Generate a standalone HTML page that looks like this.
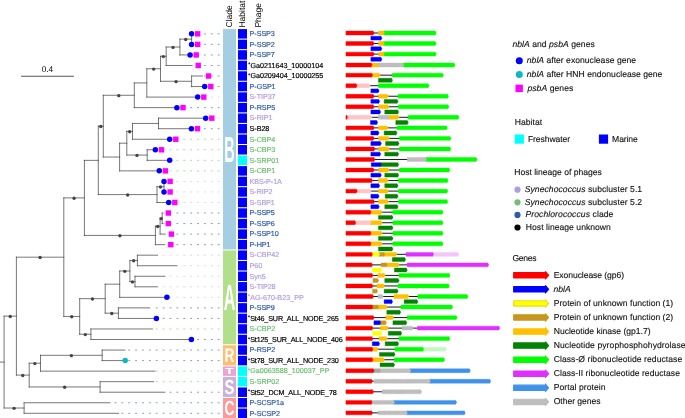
<!DOCTYPE html>
<html><head><meta charset="utf-8"><title>Phylogeny and gene organisation</title>
<style>html,body{margin:0;padding:0;background:#fff}svg{display:block;font-family:"Liberation Sans",sans-serif;text-rendering:geometricPrecision}</style>
</head><body>
<svg width="685" height="418" viewBox="0 0 685 418">
<rect width="685" height="418" fill="#fff"/>
<g stroke="#383838" stroke-width="0.68" fill="none" stroke-linecap="square">
<line x1="191.60" y1="33.85" x2="191.60" y2="33.85"/>
<line x1="191.60" y1="44.39" x2="191.60" y2="44.39"/>
<line x1="191.60" y1="33.85" x2="191.60" y2="44.39"/>
<line x1="179.90" y1="39.12" x2="191.60" y2="39.12"/>
<line x1="179.90" y1="54.93" x2="190.10" y2="54.93"/>
<line x1="179.90" y1="39.12" x2="179.90" y2="54.93"/>
<line x1="166.20" y1="47.03" x2="179.90" y2="47.03"/>
<line x1="166.20" y1="65.47" x2="192.10" y2="65.47"/>
<line x1="166.20" y1="47.03" x2="166.20" y2="65.47"/>
<line x1="160.50" y1="56.25" x2="166.20" y2="56.25"/>
<line x1="191.60" y1="76.01" x2="202.40" y2="76.01"/>
<line x1="191.60" y1="86.55" x2="204.70" y2="86.55"/>
<line x1="191.60" y1="76.01" x2="191.60" y2="86.55"/>
<line x1="160.50" y1="81.28" x2="191.60" y2="81.28"/>
<line x1="160.50" y1="56.25" x2="160.50" y2="81.28"/>
<line x1="146.80" y1="68.76" x2="160.50" y2="68.76"/>
<line x1="146.80" y1="97.09" x2="197.70" y2="97.09"/>
<line x1="146.80" y1="68.76" x2="146.80" y2="97.09"/>
<line x1="134.30" y1="82.93" x2="146.80" y2="82.93"/>
<line x1="134.30" y1="107.63" x2="176.90" y2="107.63"/>
<line x1="134.30" y1="82.93" x2="134.30" y2="107.63"/>
<line x1="103.30" y1="95.28" x2="134.30" y2="95.28"/>
<line x1="158.50" y1="118.17" x2="205.70" y2="118.17"/>
<line x1="158.50" y1="128.71" x2="191.40" y2="128.71"/>
<line x1="158.50" y1="118.17" x2="158.50" y2="128.71"/>
<line x1="132.50" y1="123.44" x2="158.50" y2="123.44"/>
<line x1="132.50" y1="139.25" x2="169.70" y2="139.25"/>
<line x1="132.50" y1="123.44" x2="132.50" y2="139.25"/>
<line x1="126.80" y1="131.34" x2="132.50" y2="131.34"/>
<line x1="147.20" y1="149.79" x2="155.40" y2="149.79"/>
<line x1="147.20" y1="160.33" x2="169.70" y2="160.33"/>
<line x1="147.20" y1="149.79" x2="147.20" y2="160.33"/>
<line x1="126.80" y1="155.06" x2="147.20" y2="155.06"/>
<line x1="126.80" y1="131.34" x2="126.80" y2="155.06"/>
<line x1="119.60" y1="143.20" x2="126.80" y2="143.20"/>
<line x1="119.60" y1="170.87" x2="159.30" y2="170.87"/>
<line x1="119.60" y1="143.20" x2="119.60" y2="170.87"/>
<line x1="103.30" y1="157.04" x2="119.60" y2="157.04"/>
<line x1="103.30" y1="95.28" x2="103.30" y2="157.04"/>
<line x1="98.30" y1="126.16" x2="103.30" y2="126.16"/>
<line x1="164.00" y1="181.41" x2="164.00" y2="181.41"/>
<line x1="164.00" y1="191.95" x2="164.00" y2="191.95"/>
<line x1="164.00" y1="181.41" x2="164.00" y2="191.95"/>
<line x1="157.00" y1="186.68" x2="164.00" y2="186.68"/>
<line x1="157.00" y1="202.49" x2="168.70" y2="202.49"/>
<line x1="157.00" y1="186.68" x2="157.00" y2="202.49"/>
<line x1="98.30" y1="194.58" x2="157.00" y2="194.58"/>
<line x1="98.30" y1="126.16" x2="98.30" y2="194.58"/>
<line x1="84.40" y1="160.37" x2="98.30" y2="160.37"/>
<line x1="162.20" y1="213.03" x2="162.20" y2="213.03"/>
<line x1="162.20" y1="223.57" x2="162.20" y2="223.57"/>
<line x1="162.20" y1="213.03" x2="162.20" y2="223.57"/>
<line x1="160.10" y1="218.30" x2="162.20" y2="218.30"/>
<line x1="160.10" y1="234.11" x2="165.30" y2="234.11"/>
<line x1="160.10" y1="218.30" x2="160.10" y2="234.11"/>
<line x1="155.40" y1="226.20" x2="160.10" y2="226.20"/>
<line x1="155.40" y1="244.65" x2="164.70" y2="244.65"/>
<line x1="155.40" y1="226.20" x2="155.40" y2="244.65"/>
<line x1="84.40" y1="235.43" x2="155.40" y2="235.43"/>
<line x1="84.40" y1="160.37" x2="84.40" y2="235.43"/>
<line x1="63.80" y1="197.90" x2="84.40" y2="197.90"/>
<line x1="137.40" y1="255.19" x2="157.50" y2="255.19"/>
<line x1="137.40" y1="265.73" x2="176.90" y2="265.73"/>
<line x1="137.40" y1="255.19" x2="137.40" y2="265.73"/>
<line x1="129.90" y1="260.46" x2="137.40" y2="260.46"/>
<line x1="135.00" y1="276.27" x2="165.00" y2="276.27"/>
<line x1="135.00" y1="286.81" x2="157.50" y2="286.81"/>
<line x1="135.00" y1="276.27" x2="135.00" y2="286.81"/>
<line x1="129.90" y1="281.54" x2="135.00" y2="281.54"/>
<line x1="129.90" y1="260.46" x2="129.90" y2="281.54"/>
<line x1="119.70" y1="271.00" x2="129.90" y2="271.00"/>
<line x1="119.70" y1="297.35" x2="166.90" y2="297.35"/>
<line x1="119.70" y1="271.00" x2="119.70" y2="297.35"/>
<line x1="105.20" y1="284.18" x2="119.70" y2="284.18"/>
<line x1="118.40" y1="307.89" x2="149.70" y2="307.89"/>
<line x1="118.40" y1="318.43" x2="156.40" y2="318.43"/>
<line x1="118.40" y1="307.89" x2="118.40" y2="318.43"/>
<line x1="105.20" y1="313.16" x2="118.40" y2="313.16"/>
<line x1="105.20" y1="284.18" x2="105.20" y2="313.16"/>
<line x1="79.70" y1="298.67" x2="105.20" y2="298.67"/>
<line x1="90.90" y1="328.97" x2="152.40" y2="328.97"/>
<line x1="90.90" y1="339.51" x2="191.40" y2="339.51"/>
<line x1="90.90" y1="328.97" x2="90.90" y2="339.51"/>
<line x1="79.70" y1="334.24" x2="90.90" y2="334.24"/>
<line x1="79.70" y1="298.67" x2="79.70" y2="334.24"/>
<line x1="63.80" y1="316.45" x2="79.70" y2="316.45"/>
<line x1="63.80" y1="197.90" x2="63.80" y2="316.45"/>
<line x1="16.40" y1="257.18" x2="63.80" y2="257.18"/>
<line x1="102.20" y1="350.05" x2="124.80" y2="350.05"/>
<line x1="102.20" y1="360.59" x2="125.20" y2="360.59"/>
<line x1="102.20" y1="350.05" x2="102.20" y2="360.59"/>
<line x1="40.50" y1="355.32" x2="102.20" y2="355.32"/>
<line x1="40.50" y1="371.13" x2="154.80" y2="371.13"/>
<line x1="40.50" y1="355.32" x2="40.50" y2="371.13"/>
<line x1="29.20" y1="363.23" x2="40.50" y2="363.23"/>
<line x1="100.10" y1="381.67" x2="153.50" y2="381.67"/>
<line x1="100.10" y1="392.21" x2="164.80" y2="392.21"/>
<line x1="100.10" y1="381.67" x2="100.10" y2="392.21"/>
<line x1="29.20" y1="386.94" x2="100.10" y2="386.94"/>
<line x1="29.20" y1="363.23" x2="29.20" y2="386.94"/>
<line x1="16.40" y1="375.08" x2="29.20" y2="375.08"/>
<line x1="16.40" y1="257.18" x2="16.40" y2="375.08"/>
<line x1="4.10" y1="316.13" x2="16.40" y2="316.13"/>
<line x1="24.10" y1="402.75" x2="110.00" y2="402.75"/>
<line x1="24.10" y1="413.29" x2="118.50" y2="413.29"/>
<line x1="24.10" y1="402.75" x2="24.10" y2="413.29"/>
<line x1="4.10" y1="408.02" x2="24.10" y2="408.02"/>
<line x1="4.10" y1="316.13" x2="4.10" y2="408.02"/>
<line x1="0.00" y1="362.07" x2="4.10" y2="362.07"/>
</g>
<g fill="#444">
<circle cx="185.75" cy="39.47" r="1.7"/>
<circle cx="173.05" cy="47.38" r="1.7"/>
<circle cx="163.35" cy="56.60" r="1.7"/>
<circle cx="176.05" cy="81.63" r="1.7"/>
<circle cx="153.65" cy="69.11" r="1.7"/>
<circle cx="118.80" cy="95.63" r="1.7"/>
<circle cx="129.65" cy="131.69" r="1.7"/>
<circle cx="137.00" cy="155.41" r="1.7"/>
<circle cx="100.80" cy="126.51" r="1.7"/>
<circle cx="160.50" cy="187.03" r="1.7"/>
<circle cx="127.65" cy="194.93" r="1.7"/>
<circle cx="161.15" cy="218.65" r="1.7"/>
<circle cx="157.75" cy="226.55" r="1.7"/>
<circle cx="119.90" cy="235.78" r="1.7"/>
<circle cx="74.10" cy="198.25" r="1.7"/>
<circle cx="133.65" cy="260.81" r="1.7"/>
<circle cx="132.45" cy="281.89" r="1.7"/>
<circle cx="124.80" cy="271.35" r="1.7"/>
<circle cx="111.80" cy="313.51" r="1.7"/>
<circle cx="92.45" cy="299.02" r="1.7"/>
<circle cx="85.30" cy="334.59" r="1.7"/>
<circle cx="71.75" cy="316.80" r="1.7"/>
<circle cx="40.10" cy="257.53" r="1.7"/>
<circle cx="71.35" cy="355.67" r="1.7"/>
<circle cx="34.85" cy="363.58" r="1.7"/>
<circle cx="64.65" cy="387.29" r="1.7"/>
<circle cx="22.80" cy="375.43" r="1.7"/>
<circle cx="10.25" cy="316.48" r="1.7"/>
<circle cx="14.10" cy="408.37" r="1.7"/>
</g>
<path d="M219.60 33.85H192.60" stroke="#2f5aa8" stroke-width="0.8" stroke-dasharray="1.9 4.98" stroke-opacity="0.75" fill="none"/>
<path d="M219.60 44.39H192.60" stroke="#2f5aa8" stroke-width="0.8" stroke-dasharray="1.9 4.98" stroke-opacity="0.75" fill="none"/>
<path d="M219.60 54.93H191.10" stroke="#2f5aa8" stroke-width="0.8" stroke-dasharray="1.9 4.98" stroke-opacity="0.75" fill="none"/>
<path d="M219.60 65.47H193.10" stroke="#555" stroke-width="0.8" stroke-dasharray="1.9 4.98" stroke-opacity="0.75" fill="none"/>
<path d="M219.60 76.01H203.40" stroke="#555" stroke-width="0.8" stroke-dasharray="1.9 4.98" stroke-opacity="0.75" fill="none"/>
<path d="M219.60 86.55H205.70" stroke="#2f5aa8" stroke-width="0.8" stroke-dasharray="1.9 4.98" stroke-opacity="0.75" fill="none"/>
<path d="M219.60 97.09H198.70" stroke="#b39ddb" stroke-width="0.8" stroke-dasharray="1.9 4.98" stroke-opacity="0.55" fill="none"/>
<path d="M219.60 107.63H177.90" stroke="#2f5aa8" stroke-width="0.8" stroke-dasharray="1.9 4.98" stroke-opacity="0.75" fill="none"/>
<path d="M219.60 118.17H206.70" stroke="#b39ddb" stroke-width="0.8" stroke-dasharray="1.9 4.98" stroke-opacity="0.55" fill="none"/>
<path d="M219.60 128.71H192.40" stroke="#555" stroke-width="0.8" stroke-dasharray="1.9 4.98" stroke-opacity="0.75" fill="none"/>
<path d="M219.60 139.25H170.70" stroke="#6cc070" stroke-width="0.8" stroke-dasharray="1.9 4.98" stroke-opacity="0.75" fill="none"/>
<path d="M219.60 149.79H156.40" stroke="#6cc070" stroke-width="0.8" stroke-dasharray="1.9 4.98" stroke-opacity="0.75" fill="none"/>
<path d="M219.60 160.33H170.70" stroke="#6cc070" stroke-width="0.8" stroke-dasharray="1.9 4.98" stroke-opacity="0.75" fill="none"/>
<path d="M219.60 170.87H160.30" stroke="#6cc070" stroke-width="0.8" stroke-dasharray="1.9 4.98" stroke-opacity="0.75" fill="none"/>
<path d="M219.60 181.41H165.00" stroke="#b39ddb" stroke-width="0.8" stroke-dasharray="1.9 4.98" stroke-opacity="0.55" fill="none"/>
<path d="M219.60 191.95H165.00" stroke="#b39ddb" stroke-width="0.8" stroke-dasharray="1.9 4.98" stroke-opacity="0.55" fill="none"/>
<path d="M219.60 202.49H169.70" stroke="#b39ddb" stroke-width="0.8" stroke-dasharray="1.9 4.98" stroke-opacity="0.55" fill="none"/>
<path d="M219.60 213.03H163.20" stroke="#2f5aa8" stroke-width="0.8" stroke-dasharray="1.9 4.98" stroke-opacity="0.75" fill="none"/>
<path d="M219.60 223.57H163.20" stroke="#2f5aa8" stroke-width="0.8" stroke-dasharray="1.9 4.98" stroke-opacity="0.75" fill="none"/>
<path d="M219.60 234.11H166.30" stroke="#2f5aa8" stroke-width="0.8" stroke-dasharray="1.9 4.98" stroke-opacity="0.75" fill="none"/>
<path d="M219.60 244.65H165.70" stroke="#2f5aa8" stroke-width="0.8" stroke-dasharray="1.9 4.98" stroke-opacity="0.75" fill="none"/>
<path d="M219.60 255.19H158.50" stroke="#b39ddb" stroke-width="0.8" stroke-dasharray="1.9 4.98" stroke-opacity="0.55" fill="none"/>
<path d="M219.60 265.73H177.90" stroke="#b39ddb" stroke-width="0.8" stroke-dasharray="1.9 4.98" stroke-opacity="0.55" fill="none"/>
<path d="M219.60 276.27H166.00" stroke="#b39ddb" stroke-width="0.8" stroke-dasharray="1.9 4.98" stroke-opacity="0.55" fill="none"/>
<path d="M219.60 286.81H158.50" stroke="#b39ddb" stroke-width="0.8" stroke-dasharray="1.9 4.98" stroke-opacity="0.55" fill="none"/>
<path d="M219.60 297.35H167.90" stroke="#b39ddb" stroke-width="0.8" stroke-dasharray="1.9 4.98" stroke-opacity="0.55" fill="none"/>
<path d="M219.60 307.89H150.70" stroke="#2f5aa8" stroke-width="0.8" stroke-dasharray="1.9 4.98" stroke-opacity="0.75" fill="none"/>
<path d="M219.60 318.43H157.40" stroke="#555" stroke-width="0.8" stroke-dasharray="1.9 4.98" stroke-opacity="0.75" fill="none"/>
<path d="M219.60 328.97H153.40" stroke="#6cc070" stroke-width="0.8" stroke-dasharray="1.9 4.98" stroke-opacity="0.75" fill="none"/>
<path d="M219.60 339.51H192.40" stroke="#555" stroke-width="0.8" stroke-dasharray="1.9 4.98" stroke-opacity="0.75" fill="none"/>
<path d="M219.60 350.05H125.80" stroke="#2f5aa8" stroke-width="0.8" stroke-dasharray="1.9 4.98" stroke-opacity="0.75" fill="none"/>
<path d="M219.60 360.59H126.20" stroke="#555" stroke-width="0.8" stroke-dasharray="1.9 4.98" stroke-opacity="0.75" fill="none"/>
<path d="M219.60 371.13H155.80" stroke="#6cc070" stroke-width="0.8" stroke-dasharray="1.9 4.98" stroke-opacity="0.75" fill="none"/>
<path d="M219.60 381.67H154.50" stroke="#6cc070" stroke-width="0.8" stroke-dasharray="1.9 4.98" stroke-opacity="0.75" fill="none"/>
<path d="M219.60 392.21H165.80" stroke="#555" stroke-width="0.8" stroke-dasharray="1.9 4.98" stroke-opacity="0.75" fill="none"/>
<path d="M219.60 402.75H111.00" stroke="#2f5aa8" stroke-width="0.8" stroke-dasharray="1.9 4.98" stroke-opacity="0.75" fill="none"/>
<path d="M219.60 413.29H119.50" stroke="#2f5aa8" stroke-width="0.8" stroke-dasharray="1.9 4.98" stroke-opacity="0.75" fill="none"/>
<circle cx="191.60" cy="33.85" r="2.75" fill="#0000ff"/>
<rect x="195.00" y="31.15" width="5.4" height="5.4" fill="#ff00ff"/>
<circle cx="191.60" cy="44.39" r="2.75" fill="#0000ff"/>
<rect x="195.00" y="41.69" width="5.4" height="5.4" fill="#ff00ff"/>
<circle cx="190.10" cy="54.93" r="2.75" fill="#0000ff"/>
<rect x="193.50" y="52.23" width="5.4" height="5.4" fill="#ff00ff"/>
<rect x="195.50" y="62.77" width="5.4" height="5.4" fill="#ff00ff"/>
<rect x="205.80" y="73.31" width="5.4" height="5.4" fill="#ff00ff"/>
<circle cx="204.70" cy="86.55" r="2.75" fill="#0000ff"/>
<rect x="208.10" y="83.85" width="5.4" height="5.4" fill="#ff00ff"/>
<circle cx="197.70" cy="97.09" r="2.75" fill="#0000ff"/>
<rect x="201.10" y="94.39" width="5.4" height="5.4" fill="#ff00ff"/>
<circle cx="176.90" cy="107.63" r="2.75" fill="#0000ff"/>
<rect x="180.30" y="104.93" width="5.4" height="5.4" fill="#ff00ff"/>
<circle cx="205.70" cy="118.17" r="2.75" fill="#0000ff"/>
<rect x="209.10" y="115.47" width="5.4" height="5.4" fill="#ff00ff"/>
<circle cx="191.40" cy="128.71" r="2.75" fill="#0000ff"/>
<rect x="194.80" y="126.01" width="5.4" height="5.4" fill="#ff00ff"/>
<circle cx="169.70" cy="139.25" r="2.75" fill="#0000ff"/>
<rect x="173.10" y="136.55" width="5.4" height="5.4" fill="#ff00ff"/>
<circle cx="155.40" cy="149.79" r="2.75" fill="#0000ff"/>
<rect x="158.80" y="147.09" width="5.4" height="5.4" fill="#ff00ff"/>
<circle cx="169.70" cy="160.33" r="2.75" fill="#0000ff"/>
<circle cx="159.30" cy="170.87" r="2.75" fill="#0000ff"/>
<rect x="162.70" y="168.17" width="5.4" height="5.4" fill="#ff00ff"/>
<circle cx="164.00" cy="181.41" r="2.75" fill="#0000ff"/>
<rect x="167.40" y="178.71" width="5.4" height="5.4" fill="#ff00ff"/>
<circle cx="164.00" cy="191.95" r="2.75" fill="#0000ff"/>
<rect x="167.40" y="189.25" width="5.4" height="5.4" fill="#ff00ff"/>
<circle cx="168.70" cy="202.49" r="2.75" fill="#0000ff"/>
<rect x="172.10" y="199.79" width="5.4" height="5.4" fill="#ff00ff"/>
<rect x="165.60" y="210.33" width="5.4" height="5.4" fill="#ff00ff"/>
<rect x="165.60" y="220.87" width="5.4" height="5.4" fill="#ff00ff"/>
<rect x="168.70" y="231.41" width="5.4" height="5.4" fill="#ff00ff"/>
<rect x="168.10" y="241.95" width="5.4" height="5.4" fill="#ff00ff"/>
<circle cx="166.90" cy="297.35" r="2.75" fill="#0000ff"/>
<circle cx="156.40" cy="318.43" r="2.75" fill="#0000ff"/>
<circle cx="191.40" cy="339.51" r="2.75" fill="#0000ff"/>
<circle cx="125.20" cy="360.59" r="2.75" fill="#0bb8c4"/>
<rect x="223.00" y="29.10" width="13.00" height="220.30" fill="#a6cee3"/>
<text x="0" y="0" font-size="36.48" font-weight="bold" fill="#fff" text-anchor="middle" transform="translate(229.50 161.55) scale(0.397 1)">B</text>
<rect x="223.00" y="250.44" width="13.00" height="93.82" fill="#b2df8a"/>
<text x="0" y="0" font-size="36.48" font-weight="bold" fill="#fff" text-anchor="middle" transform="translate(229.50 309.75) scale(0.438 1)">A</text>
<rect x="223.00" y="345.30" width="13.00" height="20.04" fill="#fdbf6f"/>
<text x="0" y="0" font-size="19.77" font-weight="bold" fill="#fff" text-anchor="middle" transform="translate(229.50 362.00) scale(0.694 1)">R</text>
<rect x="223.00" y="366.38" width="13.00" height="9.50" fill="#eaa6d2"/>
<text x="0" y="0" font-size="8.72" font-weight="bold" fill="#fff" text-anchor="middle" transform="translate(229.50 374.00) scale(1.652 1)">T</text>
<rect x="223.00" y="376.92" width="13.00" height="20.04" fill="#cab2d6"/>
<text x="0" y="0" font-size="20.35" font-weight="bold" fill="#fff" text-anchor="middle" transform="translate(229.50 394.10) scale(0.729 1)">S</text>
<rect x="223.00" y="398.00" width="13.00" height="20.04" fill="#fb9a99"/>
<text x="0" y="0" font-size="20.35" font-weight="bold" fill="#fff" text-anchor="middle" transform="translate(229.50 414.90) scale(0.674 1)">C</text>
<rect x="238.0" y="29.10" width="9.0" height="9.50" fill="#0000ff"/>
<rect x="238.0" y="39.64" width="9.0" height="9.50" fill="#0000ff"/>
<rect x="238.0" y="50.18" width="9.0" height="9.50" fill="#0000ff"/>
<rect x="238.0" y="60.72" width="9.0" height="9.50" fill="#0000ff"/>
<rect x="238.0" y="71.26" width="9.0" height="9.50" fill="#0000ff"/>
<rect x="238.0" y="81.80" width="9.0" height="9.50" fill="#0000ff"/>
<rect x="238.0" y="92.34" width="9.0" height="9.50" fill="#0000ff"/>
<rect x="238.0" y="102.88" width="9.0" height="9.50" fill="#0000ff"/>
<rect x="238.0" y="113.42" width="9.0" height="9.50" fill="#0000ff"/>
<rect x="238.0" y="123.96" width="9.0" height="9.50" fill="#0000ff"/>
<rect x="238.0" y="134.50" width="9.0" height="9.50" fill="#0000ff"/>
<rect x="238.0" y="145.04" width="9.0" height="9.50" fill="#0000ff"/>
<rect x="238.0" y="155.58" width="9.0" height="9.50" fill="#00ffff"/>
<rect x="238.0" y="166.12" width="9.0" height="9.50" fill="#0000ff"/>
<rect x="238.0" y="176.66" width="9.0" height="9.50" fill="#0000ff"/>
<rect x="238.0" y="187.20" width="9.0" height="9.50" fill="#0000ff"/>
<rect x="238.0" y="197.74" width="9.0" height="9.50" fill="#0000ff"/>
<rect x="238.0" y="208.28" width="9.0" height="9.50" fill="#0000ff"/>
<rect x="238.0" y="218.82" width="9.0" height="9.50" fill="#0000ff"/>
<rect x="238.0" y="229.36" width="9.0" height="9.50" fill="#0000ff"/>
<rect x="238.0" y="239.90" width="9.0" height="9.50" fill="#0000ff"/>
<rect x="238.0" y="250.44" width="9.0" height="9.50" fill="#0000ff"/>
<rect x="238.0" y="260.98" width="9.0" height="9.50" fill="#0000ff"/>
<rect x="238.0" y="271.52" width="9.0" height="9.50" fill="#0000ff"/>
<rect x="238.0" y="282.06" width="9.0" height="9.50" fill="#0000ff"/>
<rect x="238.0" y="292.60" width="9.0" height="9.50" fill="#0000ff"/>
<rect x="238.0" y="303.14" width="9.0" height="9.50" fill="#0000ff"/>
<rect x="238.0" y="313.68" width="9.0" height="9.50" fill="#0000ff"/>
<rect x="238.0" y="324.22" width="9.0" height="9.50" fill="#0000ff"/>
<rect x="238.0" y="334.76" width="9.0" height="9.50" fill="#0000ff"/>
<rect x="238.0" y="345.30" width="9.0" height="9.50" fill="#0000ff"/>
<rect x="238.0" y="355.84" width="9.0" height="9.50" fill="#0000ff"/>
<rect x="238.0" y="366.38" width="9.0" height="9.50" fill="#00ffff"/>
<rect x="238.0" y="376.92" width="9.0" height="9.50" fill="#00ffff"/>
<rect x="238.0" y="387.46" width="9.0" height="9.50" fill="#0000ff"/>
<rect x="238.0" y="398.00" width="9.0" height="9.50" fill="#0000ff"/>
<rect x="238.0" y="408.54" width="9.0" height="9.50" fill="#0000ff"/>
<g font-size="7.20" stroke-width="0.18">
<text x="249.6" y="36.15" fill="#2f5aa8" stroke="#2f5aa8" textLength="25.23" lengthAdjust="spacing">P-SSP3</text>
<text x="249.6" y="46.69" fill="#2f5aa8" stroke="#2f5aa8" textLength="25.23" lengthAdjust="spacing">P-SSP2</text>
<text x="249.6" y="57.23" fill="#2f5aa8" stroke="#2f5aa8" textLength="25.23" lengthAdjust="spacing">P-SSP7</text>
<text x="250.35" y="66.47" fill="#000000" stroke="#000000" font-size="5.2" text-anchor="end">*</text>
<text x="250.45" y="67.77" fill="#000000" stroke="#000000" textLength="72.80" lengthAdjust="spacing">Ga0211643_10000104</text>
<text x="250.35" y="77.01" fill="#000000" stroke="#000000" font-size="5.2" text-anchor="end">*</text>
<text x="250.45" y="78.31" fill="#000000" stroke="#000000" textLength="72.80" lengthAdjust="spacing">Ga0209404_10000255</text>
<text x="249.6" y="88.85" fill="#2f5aa8" stroke="#2f5aa8" textLength="26.01" lengthAdjust="spacing">P-GSP1</text>
<text x="249.6" y="99.39" fill="#b39ddb" stroke="#b39ddb" textLength="26.01" lengthAdjust="spacing">S-TIP37</text>
<text x="249.6" y="109.93" fill="#2f5aa8" stroke="#2f5aa8" textLength="25.62" lengthAdjust="spacing">P-RSP5</text>
<text x="249.6" y="120.47" fill="#b39ddb" stroke="#b39ddb" textLength="22.86" lengthAdjust="spacing">S-RIP1</text>
<text x="249.6" y="131.01" fill="#000000" stroke="#000000" textLength="19.71" lengthAdjust="spacing">S-B28</text>
<text x="249.6" y="141.55" fill="#6cc070" stroke="#6cc070" textLength="25.62" lengthAdjust="spacing">S-CBP4</text>
<text x="249.6" y="152.09" fill="#6cc070" stroke="#6cc070" textLength="25.62" lengthAdjust="spacing">S-CBP3</text>
<text x="249.6" y="162.63" fill="#6cc070" stroke="#6cc070" textLength="29.56" lengthAdjust="spacing">S-SRP01</text>
<text x="249.6" y="173.17" fill="#6cc070" stroke="#6cc070" textLength="25.62" lengthAdjust="spacing">S-CBP1</text>
<text x="249.6" y="183.71" fill="#b39ddb" stroke="#b39ddb" textLength="32.32" lengthAdjust="spacing">KBS-P-1A</text>
<text x="249.6" y="194.25" fill="#b39ddb" stroke="#b39ddb" textLength="22.86" lengthAdjust="spacing">S-RIP2</text>
<text x="249.6" y="204.79" fill="#b39ddb" stroke="#b39ddb" textLength="25.23" lengthAdjust="spacing">S-SBP1</text>
<text x="249.6" y="215.33" fill="#2f5aa8" stroke="#2f5aa8" textLength="25.23" lengthAdjust="spacing">P-SSP5</text>
<text x="249.6" y="225.87" fill="#2f5aa8" stroke="#2f5aa8" textLength="25.23" lengthAdjust="spacing">P-SSP6</text>
<text x="249.6" y="236.41" fill="#2f5aa8" stroke="#2f5aa8" textLength="29.17" lengthAdjust="spacing">P-SSP10</text>
<text x="249.6" y="246.95" fill="#2f5aa8" stroke="#2f5aa8" textLength="20.89" lengthAdjust="spacing">P-HP1</text>
<text x="249.6" y="257.49" fill="#b39ddb" stroke="#b39ddb" textLength="29.56" lengthAdjust="spacing">S-CBP42</text>
<text x="249.6" y="268.03" fill="#b39ddb" stroke="#b39ddb" textLength="12.62" lengthAdjust="spacing">P60</text>
<text x="249.6" y="278.57" fill="#b39ddb" stroke="#b39ddb" textLength="16.17" lengthAdjust="spacing">Syn5</text>
<text x="249.6" y="289.11" fill="#b39ddb" stroke="#b39ddb" textLength="26.01" lengthAdjust="spacing">S-TIP28</text>
<text x="250.05" y="298.35" fill="#b39ddb" stroke="#b39ddb" font-size="5.2" text-anchor="end">*</text>
<text x="250.15" y="299.65" fill="#b39ddb" stroke="#b39ddb" textLength="53.63" lengthAdjust="spacing">AG-670-B23_PP</text>
<text x="249.6" y="310.19" fill="#2f5aa8" stroke="#2f5aa8" textLength="25.23" lengthAdjust="spacing">P-SSP9</text>
<text x="250.05" y="319.43" fill="#000000" stroke="#000000" font-size="5.2" text-anchor="end">*</text>
<text x="250.15" y="320.73" fill="#000000" stroke="#000000" textLength="88.63" lengthAdjust="spacing">St46_SUR_ALL_NODE_265</text>
<text x="249.6" y="331.27" fill="#6cc070" stroke="#6cc070" textLength="25.62" lengthAdjust="spacing">S-CBP2</text>
<text x="250.05" y="340.51" fill="#000000" stroke="#000000" font-size="5.2" text-anchor="end">*</text>
<text x="250.15" y="341.81" fill="#000000" stroke="#000000" textLength="92.51" lengthAdjust="spacing">St125_SUR_ALL_NODE_406</text>
<text x="249.6" y="352.35" fill="#2f5aa8" stroke="#2f5aa8" textLength="25.62" lengthAdjust="spacing">P-RSP2</text>
<text x="250.05" y="361.59" fill="#000000" stroke="#000000" font-size="5.2" text-anchor="end">*</text>
<text x="250.15" y="362.89" fill="#000000" stroke="#000000" textLength="88.63" lengthAdjust="spacing">St78_SUR_ALL_NODE_230</text>
<text x="250.05" y="372.13" fill="#6cc070" stroke="#6cc070" font-size="5.2" text-anchor="end">*</text>
<text x="250.15" y="373.43" fill="#6cc070" stroke="#6cc070" textLength="79.28" lengthAdjust="spacing">Ga0063588_100037_PP</text>
<text x="249.6" y="383.97" fill="#6cc070" stroke="#6cc070" textLength="29.56" lengthAdjust="spacing">S-SRP02</text>
<text x="250.05" y="393.21" fill="#000000" stroke="#000000" font-size="5.2" text-anchor="end">*</text>
<text x="250.15" y="394.51" fill="#000000" stroke="#000000" textLength="86.63" lengthAdjust="spacing">St52_DCM_ALL_NODE_78</text>
<text x="249.6" y="405.05" fill="#2f5aa8" stroke="#2f5aa8" textLength="34.29" lengthAdjust="spacing">P-SCSP1a</text>
<text x="249.6" y="415.59" fill="#2f5aa8" stroke="#2f5aa8" textLength="30.35" lengthAdjust="spacing">P-SCSP2</text>
</g>
<text font-size="8.55" transform="translate(231.80 27.6) rotate(-90)">Clade</text>
<text font-size="8.55" transform="translate(244.80 27.6) rotate(-90)">Habitat</text>
<text font-size="8.55" transform="translate(260.50 27.6) rotate(-90)">Phage</text>
<line x1="21.1" y1="76.2" x2="73.9" y2="76.2" stroke="#555" stroke-width="1.1"/>
<text x="47.4" y="71.9" font-size="8.3" text-anchor="middle">0.4</text>
<line x1="346.72" y1="33.00" x2="435.40" y2="33.00" stroke="#1a1a1a" stroke-width="1.0"/>
<path d="M383.45 31.05H435.00V30.75L436.20 32.70V33.30L435.00 35.25V34.95H383.45Z" fill="#00ff00" stroke="#00ff00" stroke-width="0.4" stroke-linejoin="round"/>
<path d="M378.42 31.05H383.15V30.75L384.35 32.70V33.30L383.15 35.25V34.95H378.42Z" fill="#ffc000" stroke="#ffc000" stroke-width="0.4" stroke-linejoin="round"/>
<path d="M345.92 31.05H372.93V30.75L374.13 32.70V33.30L372.93 35.25V34.95H345.92Z" fill="#ff0000" stroke="#ff0000" stroke-width="0.4" stroke-linejoin="round"/>
<path d="M370.86 36.20H380.70V35.90L381.90 37.85V38.45L380.70 40.40V40.10H370.86Z" fill="#0000ff" stroke="#0000ff" stroke-width="0.4" stroke-linejoin="round"/>
<line x1="346.72" y1="43.54" x2="435.40" y2="43.54" stroke="#1a1a1a" stroke-width="1.0"/>
<path d="M383.45 41.59H435.00V41.29L436.20 43.24V43.84L435.00 45.79V45.49H383.45Z" fill="#00ff00" stroke="#00ff00" stroke-width="0.4" stroke-linejoin="round"/>
<path d="M378.42 41.59H383.15V41.29L384.35 43.24V43.84L383.15 45.79V45.49H378.42Z" fill="#ffc000" stroke="#ffc000" stroke-width="0.4" stroke-linejoin="round"/>
<path d="M345.92 41.59H372.93V41.29L374.13 43.24V43.84L372.93 45.79V45.49H345.92Z" fill="#ff0000" stroke="#ff0000" stroke-width="0.4" stroke-linejoin="round"/>
<path d="M370.86 46.74H380.70V46.44L381.90 48.39V48.99L380.70 50.94V50.64H370.86Z" fill="#0000ff" stroke="#0000ff" stroke-width="0.4" stroke-linejoin="round"/>
<line x1="346.72" y1="54.08" x2="435.40" y2="54.08" stroke="#1a1a1a" stroke-width="1.0"/>
<path d="M383.45 52.13H435.00V51.83L436.20 53.78V54.38L435.00 56.33V56.03H383.45Z" fill="#00ff00" stroke="#00ff00" stroke-width="0.4" stroke-linejoin="round"/>
<path d="M378.42 52.13H383.15V51.83L384.35 53.78V54.38L383.15 56.33V56.03H378.42Z" fill="#ffc000" stroke="#ffc000" stroke-width="0.4" stroke-linejoin="round"/>
<path d="M345.92 52.13H372.93V51.83L374.13 53.78V54.38L372.93 56.33V56.03H345.92Z" fill="#ff0000" stroke="#ff0000" stroke-width="0.4" stroke-linejoin="round"/>
<path d="M370.86 57.28H380.70V56.98L381.90 58.93V59.53L380.70 61.48V61.18H370.86Z" fill="#0000ff" stroke="#0000ff" stroke-width="0.4" stroke-linejoin="round"/>
<line x1="346.72" y1="65.05" x2="454.20" y2="65.05" stroke="#1a1a1a" stroke-width="1.0"/>
<path d="M402.87 63.10H453.80V62.80L455.00 64.75V65.35L453.80 67.30V67.00H402.87Z" fill="#00ff00" stroke="#00ff00" stroke-width="0.4" stroke-linejoin="round"/>
<path d="M377.73 63.10H402.57V62.80L403.77 64.75V65.35L402.57 67.30V67.00H377.73Z" fill="#bebebe" stroke="#bebebe" stroke-width="0.4" stroke-linejoin="round"/>
<path d="M371.19 63.10H377.43V62.80L378.63 64.75V65.35L377.43 67.30V67.00H371.19Z" fill="#ffc000" stroke="#ffc000" stroke-width="0.4" stroke-linejoin="round"/>
<path d="M345.92 63.10H370.89V62.80L372.09 64.75V65.35L370.89 67.30V67.00H345.92Z" fill="#ff0000" stroke="#ff0000" stroke-width="0.4" stroke-linejoin="round"/>
<line x1="346.72" y1="75.16" x2="442.60" y2="75.16" stroke="#1a1a1a" stroke-width="1.0"/>
<path d="M392.52 73.21H442.20V72.91L443.40 74.86V75.46L442.20 77.41V77.11H392.52Z" fill="#00ff00" stroke="#00ff00" stroke-width="0.4" stroke-linejoin="round"/>
<path d="M371.60 73.21H378.86V72.91L380.06 74.86V75.46L378.86 77.41V77.11H371.60Z" fill="#ffc000" stroke="#ffc000" stroke-width="0.4" stroke-linejoin="round"/>
<path d="M345.92 73.21H371.30V72.91L372.50 74.86V75.46L371.30 77.41V77.11H345.92Z" fill="#ff0000" stroke="#ff0000" stroke-width="0.4" stroke-linejoin="round"/>
<path d="M378.42 78.36H391.33V78.06L392.53 80.01V80.61L391.33 82.56V82.26H378.42Z" fill="#058205" stroke="#058205" stroke-width="0.4" stroke-linejoin="round"/>
<line x1="346.72" y1="85.70" x2="428.30" y2="85.70" stroke="#1a1a1a" stroke-width="1.0"/>
<path d="M378.42 83.75H427.90V83.45L429.10 85.40V86.00L427.90 87.95V87.65H378.42Z" fill="#00ff00" stroke="#00ff00" stroke-width="0.4" stroke-linejoin="round"/>
<path d="M356.07 83.75H368.85V83.45L370.05 85.40V86.00L368.85 87.95V87.65H356.07Z" fill="#ffc4c6" stroke="#ffc4c6" stroke-width="0.4" stroke-linejoin="round"/>
<path d="M345.92 83.75H355.77V83.45L356.97 85.40V86.00L355.77 87.95V87.65H345.92Z" fill="#ff0000" stroke="#ff0000" stroke-width="0.4" stroke-linejoin="round"/>
<path d="M370.86 88.90H377.84V88.60L379.04 90.55V91.15L377.84 93.10V92.80H370.86Z" fill="#0000ff" stroke="#0000ff" stroke-width="0.4" stroke-linejoin="round"/>
<line x1="346.72" y1="96.24" x2="447.70" y2="96.24" stroke="#1a1a1a" stroke-width="1.0"/>
<path d="M398.04 94.29H447.30V93.99L448.50 95.94V96.54L447.30 98.49V98.19H398.04Z" fill="#00ff00" stroke="#00ff00" stroke-width="0.4" stroke-linejoin="round"/>
<path d="M378.42 94.29H387.04V93.99L388.24 95.94V96.54L387.04 98.49V98.19H378.42Z" fill="#ffc000" stroke="#ffc000" stroke-width="0.4" stroke-linejoin="round"/>
<path d="M345.92 94.29H372.93V93.99L374.13 95.94V96.54L372.93 98.49V98.19H345.92Z" fill="#ff0000" stroke="#ff0000" stroke-width="0.4" stroke-linejoin="round"/>
<path d="M384.14 99.44H396.85V99.14L398.05 101.09V101.69L396.85 103.64V103.34H384.14Z" fill="#058205" stroke="#058205" stroke-width="0.4" stroke-linejoin="round"/>
<path d="M370.86 99.44H378.45V99.14L379.65 101.09V101.69L378.45 103.64V103.34H370.86Z" fill="#0000ff" stroke="#0000ff" stroke-width="0.4" stroke-linejoin="round"/>
<line x1="346.72" y1="106.78" x2="448.10" y2="106.78" stroke="#1a1a1a" stroke-width="1.0"/>
<path d="M398.45 104.83H447.70V104.53L448.90 106.48V107.08L447.70 109.03V108.73H398.45Z" fill="#00ff00" stroke="#00ff00" stroke-width="0.4" stroke-linejoin="round"/>
<path d="M378.42 104.83H387.65V104.53L388.85 106.48V107.08L387.65 109.03V108.73H378.42Z" fill="#ffc000" stroke="#ffc000" stroke-width="0.4" stroke-linejoin="round"/>
<path d="M345.92 104.83H372.93V104.53L374.13 106.48V107.08L372.93 109.03V108.73H345.92Z" fill="#ff0000" stroke="#ff0000" stroke-width="0.4" stroke-linejoin="round"/>
<path d="M384.75 109.98H397.46V109.68L398.66 111.63V112.23L397.46 114.18V113.88H384.75Z" fill="#058205" stroke="#058205" stroke-width="0.4" stroke-linejoin="round"/>
<path d="M370.86 109.98H379.47V109.68L380.67 111.63V112.23L379.47 114.18V113.88H370.86Z" fill="#0000ff" stroke="#0000ff" stroke-width="0.4" stroke-linejoin="round"/>
<line x1="346.72" y1="117.32" x2="458.20" y2="117.32" stroke="#1a1a1a" stroke-width="1.0"/>
<path d="M408.26 115.37H457.80V115.07L459.00 117.02V117.62L457.80 119.57V119.27H408.26Z" fill="#00ff00" stroke="#00ff00" stroke-width="0.4" stroke-linejoin="round"/>
<path d="M388.36 115.37H397.87V115.07L399.07 117.02V117.62L397.87 119.57V119.27H388.36Z" fill="#ffc000" stroke="#ffc000" stroke-width="0.4" stroke-linejoin="round"/>
<path d="M378.42 115.37H388.06V115.07L389.26 117.02V117.62L388.06 119.57V119.27H378.42Z" fill="#bebebe" stroke="#bebebe" stroke-width="0.4" stroke-linejoin="round"/>
<path d="M346.67 115.37H370.69V115.07L371.89 117.02V117.62L370.69 119.57V119.27H346.67Z" fill="#ffc4c6" stroke="#ffc4c6" stroke-width="0.4" stroke-linejoin="round"/>
<path d="M345.92 115.37H346.37V115.07L347.57 117.02V117.62L346.37 119.57V119.27H345.92Z" fill="#ff0000" stroke="#ff0000" stroke-width="0.4" stroke-linejoin="round"/>
<path d="M395.79 120.52H407.07V120.22L408.27 122.17V122.77L407.07 124.72V124.42H395.79Z" fill="#058205" stroke="#058205" stroke-width="0.4" stroke-linejoin="round"/>
<path d="M370.45 120.52H376.41V120.22L377.61 122.17V122.77L376.41 124.72V124.42H370.45Z" fill="#0000ff" stroke="#0000ff" stroke-width="0.4" stroke-linejoin="round"/>
<line x1="346.72" y1="127.86" x2="446.40" y2="127.86" stroke="#1a1a1a" stroke-width="1.0"/>
<path d="M397.02 125.91H446.00V125.61L447.20 127.56V128.16L446.00 130.11V129.81H397.02Z" fill="#00ff00" stroke="#00ff00" stroke-width="0.4" stroke-linejoin="round"/>
<path d="M378.42 125.91H386.63V125.61L387.83 127.56V128.16L386.63 130.11V129.81H378.42Z" fill="#ffc000" stroke="#ffc000" stroke-width="0.4" stroke-linejoin="round"/>
<path d="M345.92 125.91H372.93V125.61L374.13 127.56V128.16L372.93 130.11V129.81H345.92Z" fill="#ff0000" stroke="#ff0000" stroke-width="0.4" stroke-linejoin="round"/>
<path d="M384.14 131.06H395.82V130.76L397.02 132.71V133.31L395.82 135.26V134.96H384.14Z" fill="#058205" stroke="#058205" stroke-width="0.4" stroke-linejoin="round"/>
<path d="M370.86 131.06H377.84V130.76L379.04 132.71V133.31L377.84 135.26V134.96H370.86Z" fill="#0000ff" stroke="#0000ff" stroke-width="0.4" stroke-linejoin="round"/>
<line x1="346.72" y1="138.40" x2="450.10" y2="138.40" stroke="#1a1a1a" stroke-width="1.0"/>
<path d="M399.47 136.45H449.70V136.15L450.90 138.10V138.70L449.70 140.65V140.35H399.47Z" fill="#00ff00" stroke="#00ff00" stroke-width="0.4" stroke-linejoin="round"/>
<path d="M378.42 136.45H388.06V136.15L389.26 138.10V138.70L388.06 140.65V140.35H378.42Z" fill="#ffc000" stroke="#ffc000" stroke-width="0.4" stroke-linejoin="round"/>
<path d="M345.92 136.45H372.93V136.15L374.13 138.10V138.70L372.93 140.65V140.35H345.92Z" fill="#ff0000" stroke="#ff0000" stroke-width="0.4" stroke-linejoin="round"/>
<path d="M385.57 141.60H397.87V141.30L399.07 143.25V143.85L397.87 145.80V145.50H385.57Z" fill="#058205" stroke="#058205" stroke-width="0.4" stroke-linejoin="round"/>
<path d="M370.86 141.60H380.09V141.30L381.29 143.25V143.85L380.09 145.80V145.50H370.86Z" fill="#0000ff" stroke="#0000ff" stroke-width="0.4" stroke-linejoin="round"/>
<line x1="346.72" y1="148.94" x2="450.10" y2="148.94" stroke="#1a1a1a" stroke-width="1.0"/>
<path d="M399.47 146.99H449.70V146.69L450.90 148.64V149.24L449.70 151.19V150.89H399.47Z" fill="#00ff00" stroke="#00ff00" stroke-width="0.4" stroke-linejoin="round"/>
<path d="M378.42 146.99H388.06V146.69L389.26 148.64V149.24L388.06 151.19V150.89H378.42Z" fill="#ffc000" stroke="#ffc000" stroke-width="0.4" stroke-linejoin="round"/>
<path d="M345.92 146.99H373.75V146.69L374.95 148.64V149.24L373.75 151.19V150.89H345.92Z" fill="#ff0000" stroke="#ff0000" stroke-width="0.4" stroke-linejoin="round"/>
<path d="M384.75 152.14H397.46V151.84L398.66 153.79V154.39L397.46 156.34V156.04H384.75Z" fill="#058205" stroke="#058205" stroke-width="0.4" stroke-linejoin="round"/>
<path d="M370.86 152.14H379.47V151.84L380.67 153.79V154.39L379.47 156.34V156.04H370.86Z" fill="#0000ff" stroke="#0000ff" stroke-width="0.4" stroke-linejoin="round"/>
<line x1="346.72" y1="159.48" x2="476.30" y2="159.48" stroke="#1a1a1a" stroke-width="1.0"/>
<path d="M425.76 157.53H475.90V157.23L477.10 159.18V159.78L475.90 161.73V161.43H425.76Z" fill="#00ff00" stroke="#00ff00" stroke-width="0.4" stroke-linejoin="round"/>
<path d="M407.23 157.53H425.46V157.23L426.66 159.18V159.78L425.46 161.73V161.43H407.23Z" fill="#bebebe" stroke="#bebebe" stroke-width="0.4" stroke-linejoin="round"/>
<path d="M345.92 157.53H373.75V157.23L374.95 159.18V159.78L373.75 161.73V161.43H345.92Z" fill="#ff0000" stroke="#ff0000" stroke-width="0.4" stroke-linejoin="round"/>
<path d="M380.39 162.68H397.46V162.38L398.66 164.33V164.93L397.46 166.88V166.58H380.39Z" fill="#058205" stroke="#058205" stroke-width="0.4" stroke-linejoin="round"/>
<path d="M371.26 162.68H380.09V162.38L381.29 164.33V164.93L380.09 166.88V166.58H371.26Z" fill="#0000ff" stroke="#0000ff" stroke-width="0.4" stroke-linejoin="round"/>
<line x1="346.72" y1="170.02" x2="449.10" y2="170.02" stroke="#1a1a1a" stroke-width="1.0"/>
<path d="M399.47 168.07H448.70V167.77L449.90 169.72V170.32L448.70 172.27V171.97H399.47Z" fill="#00ff00" stroke="#00ff00" stroke-width="0.4" stroke-linejoin="round"/>
<path d="M378.42 168.07H387.65V167.77L388.85 169.72V170.32L387.65 172.27V171.97H378.42Z" fill="#ffc000" stroke="#ffc000" stroke-width="0.4" stroke-linejoin="round"/>
<path d="M345.92 168.07H372.93V167.77L374.13 169.72V170.32L372.93 172.27V171.97H345.92Z" fill="#ff0000" stroke="#ff0000" stroke-width="0.4" stroke-linejoin="round"/>
<path d="M384.75 173.22H397.46V172.92L398.66 174.87V175.47L397.46 177.42V177.12H384.75Z" fill="#058205" stroke="#058205" stroke-width="0.4" stroke-linejoin="round"/>
<path d="M370.86 173.22H380.09V172.92L381.29 174.87V175.47L380.09 177.42V177.12H370.86Z" fill="#0000ff" stroke="#0000ff" stroke-width="0.4" stroke-linejoin="round"/>
<line x1="346.72" y1="180.56" x2="447.40" y2="180.56" stroke="#1a1a1a" stroke-width="1.0"/>
<path d="M398.45 178.61H447.00V178.31L448.20 180.26V180.86L447.00 182.81V182.51H398.45Z" fill="#00ff00" stroke="#00ff00" stroke-width="0.4" stroke-linejoin="round"/>
<path d="M378.42 178.61H387.04V178.31L388.24 180.26V180.86L387.04 182.81V182.51H378.42Z" fill="#ffc000" stroke="#ffc000" stroke-width="0.4" stroke-linejoin="round"/>
<path d="M345.92 178.61H371.30V178.31L372.50 180.26V180.86L371.30 182.81V182.51H345.92Z" fill="#ff0000" stroke="#ff0000" stroke-width="0.4" stroke-linejoin="round"/>
<path d="M384.75 183.76H396.85V183.46L398.05 185.41V186.01L396.85 187.96V187.66H384.75Z" fill="#058205" stroke="#058205" stroke-width="0.4" stroke-linejoin="round"/>
<path d="M370.86 183.76H378.45V183.46L379.65 185.41V186.01L378.45 187.96V187.66H370.86Z" fill="#0000ff" stroke="#0000ff" stroke-width="0.4" stroke-linejoin="round"/>
<line x1="346.72" y1="191.10" x2="447.00" y2="191.10" stroke="#1a1a1a" stroke-width="1.0"/>
<path d="M398.45 189.15H446.60V188.85L447.80 190.80V191.40L446.60 193.35V193.05H398.45Z" fill="#00ff00" stroke="#00ff00" stroke-width="0.4" stroke-linejoin="round"/>
<path d="M378.42 189.15H387.04V188.85L388.24 190.80V191.40L387.04 193.35V193.05H378.42Z" fill="#ffc000" stroke="#ffc000" stroke-width="0.4" stroke-linejoin="round"/>
<path d="M356.27 189.15H369.87V188.85L371.07 190.80V191.40L369.87 193.35V193.05H356.27Z" fill="#ffc4c6" stroke="#ffc4c6" stroke-width="0.4" stroke-linejoin="round"/>
<path d="M345.92 189.15H355.97V188.85L357.17 190.80V191.40L355.97 193.35V193.05H345.92Z" fill="#ff0000" stroke="#ff0000" stroke-width="0.4" stroke-linejoin="round"/>
<path d="M385.16 194.30H396.85V194.00L398.05 195.95V196.55L396.85 198.50V198.20H385.16Z" fill="#058205" stroke="#058205" stroke-width="0.4" stroke-linejoin="round"/>
<path d="M370.86 194.30H377.84V194.00L379.04 195.95V196.55L377.84 198.50V198.20H370.86Z" fill="#0000ff" stroke="#0000ff" stroke-width="0.4" stroke-linejoin="round"/>
<line x1="346.72" y1="201.64" x2="447.00" y2="201.64" stroke="#1a1a1a" stroke-width="1.0"/>
<path d="M398.45 199.69H446.60V199.39L447.80 201.34V201.94L446.60 203.89V203.59H398.45Z" fill="#00ff00" stroke="#00ff00" stroke-width="0.4" stroke-linejoin="round"/>
<path d="M378.42 199.69H387.24V199.39L388.44 201.34V201.94L387.24 203.89V203.59H378.42Z" fill="#ffc000" stroke="#ffc000" stroke-width="0.4" stroke-linejoin="round"/>
<path d="M345.92 199.69H373.34V199.39L374.54 201.34V201.94L373.34 203.89V203.59H345.92Z" fill="#ff0000" stroke="#ff0000" stroke-width="0.4" stroke-linejoin="round"/>
<path d="M384.75 204.84H396.85V204.54L398.05 206.49V207.09L396.85 209.04V208.74H384.75Z" fill="#058205" stroke="#058205" stroke-width="0.4" stroke-linejoin="round"/>
<path d="M370.86 204.84H378.04V204.54L379.24 206.49V207.09L378.04 209.04V208.74H370.86Z" fill="#0000ff" stroke="#0000ff" stroke-width="0.4" stroke-linejoin="round"/>
<line x1="346.72" y1="212.18" x2="442.30" y2="212.18" stroke="#1a1a1a" stroke-width="1.0"/>
<path d="M392.93 210.23H441.90V209.93L443.10 211.88V212.48L441.90 214.43V214.13H392.93Z" fill="#00ff00" stroke="#00ff00" stroke-width="0.4" stroke-linejoin="round"/>
<path d="M370.17 210.23H380.91V209.93L382.11 211.88V212.48L380.91 214.43V214.13H370.17Z" fill="#ffc000" stroke="#ffc000" stroke-width="0.4" stroke-linejoin="round"/>
<path d="M345.92 210.23H369.87V209.93L371.07 211.88V212.48L369.87 214.43V214.13H345.92Z" fill="#ff0000" stroke="#ff0000" stroke-width="0.4" stroke-linejoin="round"/>
<path d="M378.42 215.38H391.74V215.08L392.94 217.03V217.63L391.74 219.58V219.28H378.42Z" fill="#058205" stroke="#058205" stroke-width="0.4" stroke-linejoin="round"/>
<line x1="346.72" y1="222.72" x2="442.30" y2="222.72" stroke="#1a1a1a" stroke-width="1.0"/>
<path d="M392.93 220.77H441.90V220.47L443.10 222.42V223.02L441.90 224.97V224.67H392.93Z" fill="#00ff00" stroke="#00ff00" stroke-width="0.4" stroke-linejoin="round"/>
<path d="M370.17 220.77H380.91V220.47L382.11 222.42V223.02L380.91 224.97V224.67H370.17Z" fill="#ffc000" stroke="#ffc000" stroke-width="0.4" stroke-linejoin="round"/>
<path d="M354.84 220.77H369.87V220.47L371.07 222.42V223.02L369.87 224.97V224.67H354.84Z" fill="#ffc4c6" stroke="#ffc4c6" stroke-width="0.4" stroke-linejoin="round"/>
<path d="M345.92 220.77H354.54V220.47L355.74 222.42V223.02L354.54 224.97V224.67H345.92Z" fill="#ff0000" stroke="#ff0000" stroke-width="0.4" stroke-linejoin="round"/>
<path d="M378.42 225.92H391.74V225.62L392.94 227.57V228.17L391.74 230.12V229.82H378.42Z" fill="#058205" stroke="#058205" stroke-width="0.4" stroke-linejoin="round"/>
<line x1="346.72" y1="233.26" x2="442.30" y2="233.26" stroke="#1a1a1a" stroke-width="1.0"/>
<path d="M392.93 231.31H441.90V231.01L443.10 232.96V233.56L441.90 235.51V235.21H392.93Z" fill="#00ff00" stroke="#00ff00" stroke-width="0.4" stroke-linejoin="round"/>
<path d="M370.17 231.31H380.91V231.01L382.11 232.96V233.56L380.91 235.51V235.21H370.17Z" fill="#ffc000" stroke="#ffc000" stroke-width="0.4" stroke-linejoin="round"/>
<path d="M345.92 231.31H369.87V231.01L371.07 232.96V233.56L369.87 235.51V235.21H345.92Z" fill="#ff0000" stroke="#ff0000" stroke-width="0.4" stroke-linejoin="round"/>
<path d="M378.42 236.46H391.74V236.16L392.94 238.11V238.71L391.74 240.66V240.36H378.42Z" fill="#058205" stroke="#058205" stroke-width="0.4" stroke-linejoin="round"/>
<line x1="346.72" y1="243.80" x2="442.30" y2="243.80" stroke="#1a1a1a" stroke-width="1.0"/>
<path d="M392.93 241.85H441.90V241.55L443.10 243.50V244.10L441.90 246.05V245.75H392.93Z" fill="#00ff00" stroke="#00ff00" stroke-width="0.4" stroke-linejoin="round"/>
<path d="M370.17 241.85H380.91V241.55L382.11 243.50V244.10L380.91 246.05V245.75H370.17Z" fill="#ffc000" stroke="#ffc000" stroke-width="0.4" stroke-linejoin="round"/>
<path d="M345.92 241.85H369.87V241.55L371.07 243.50V244.10L369.87 246.05V245.75H345.92Z" fill="#ff0000" stroke="#ff0000" stroke-width="0.4" stroke-linejoin="round"/>
<path d="M378.42 247.00H391.74V246.70L392.94 248.65V249.25L391.74 251.20V250.90H378.42Z" fill="#058205" stroke="#058205" stroke-width="0.4" stroke-linejoin="round"/>
<line x1="346.72" y1="254.34" x2="457.90" y2="254.34" stroke="#1a1a1a" stroke-width="1.0"/>
<path d="M432.60 252.39H457.50V252.09L458.70 254.04V254.64L457.50 256.59V256.29H432.60Z" fill="#f3c6fb" stroke="#f3c6fb" stroke-width="0.4" stroke-linejoin="round"/>
<path d="M406.01 252.39H432.30V252.09L433.50 254.04V254.64L432.30 256.59V256.29H406.01Z" fill="#e030ff" stroke="#e030ff" stroke-width="0.4" stroke-linejoin="round"/>
<path d="M383.86 252.39H395.42V252.09L396.62 254.04V254.64L395.42 256.59V256.29H383.86Z" fill="#ffc000" stroke="#ffc000" stroke-width="0.4" stroke-linejoin="round"/>
<path d="M378.75 252.39H383.56V252.09L384.76 254.04V254.64L383.56 256.59V256.29H378.75Z" fill="#c8961e" stroke="#c8961e" stroke-width="0.4" stroke-linejoin="round"/>
<path d="M371.60 252.39H378.45V252.09L379.65 254.04V254.64L378.45 256.59V256.29H371.60Z" fill="#ffff00" stroke="#ffff00" stroke-width="0.4" stroke-linejoin="round"/>
<path d="M345.92 252.39H371.30V252.09L372.50 254.04V254.64L371.30 256.59V256.29H345.92Z" fill="#ff0000" stroke="#ff0000" stroke-width="0.4" stroke-linejoin="round"/>
<path d="M392.32 257.54H404.41V257.24L405.61 259.19V259.79L404.41 261.74V261.44H392.32Z" fill="#058205" stroke="#058205" stroke-width="0.4" stroke-linejoin="round"/>
<line x1="346.72" y1="264.88" x2="487.90" y2="264.88" stroke="#1a1a1a" stroke-width="1.0"/>
<path d="M407.23 262.93H487.50V262.63L488.70 264.58V265.18L487.50 267.13V266.83H407.23Z" fill="#e030ff" stroke="#e030ff" stroke-width="0.4" stroke-linejoin="round"/>
<path d="M386.31 262.93H397.87V262.63L399.07 264.58V265.18L397.87 267.13V266.83H386.31Z" fill="#ffc000" stroke="#ffc000" stroke-width="0.4" stroke-linejoin="round"/>
<path d="M381.07 262.93H386.01V262.63L387.21 264.58V265.18L386.01 267.13V266.83H381.07Z" fill="#c8961e" stroke="#c8961e" stroke-width="0.4" stroke-linejoin="round"/>
<path d="M345.92 262.93H371.30V262.63L372.50 264.58V265.18L371.30 267.13V266.83H345.92Z" fill="#ff0000" stroke="#ff0000" stroke-width="0.4" stroke-linejoin="round"/>
<path d="M394.36 268.08H406.04V267.78L407.24 269.73V270.33L406.04 272.28V271.98H394.36Z" fill="#058205" stroke="#058205" stroke-width="0.4" stroke-linejoin="round"/>
<path d="M372.49 268.08H380.50V267.78L381.70 269.73V270.33L380.50 272.28V271.98H372.49Z" fill="#ffff00" stroke="#ffff00" stroke-width="0.4" stroke-linejoin="round"/>
<line x1="346.72" y1="275.42" x2="449.20" y2="275.42" stroke="#1a1a1a" stroke-width="1.0"/>
<path d="M399.06 273.47H448.80V273.17L450.00 275.12V275.72L448.80 277.67V277.37H399.06Z" fill="#00ff00" stroke="#00ff00" stroke-width="0.4" stroke-linejoin="round"/>
<path d="M378.01 273.47H383.97V273.17L385.17 275.12V275.72L383.97 277.67V277.37H378.01Z" fill="#ffc000" stroke="#ffc000" stroke-width="0.4" stroke-linejoin="round"/>
<path d="M345.92 273.47H371.71V273.17L372.91 275.12V275.72L371.71 277.67V277.37H345.92Z" fill="#ff0000" stroke="#ff0000" stroke-width="0.4" stroke-linejoin="round"/>
<path d="M384.75 278.62H397.87V278.32L399.07 280.27V280.87L397.87 282.82V282.52H384.75Z" fill="#058205" stroke="#058205" stroke-width="0.4" stroke-linejoin="round"/>
<path d="M372.90 278.62H377.43V278.32L378.63 280.27V280.87L377.43 282.82V282.52H372.90Z" fill="#c8961e" stroke="#c8961e" stroke-width="0.4" stroke-linejoin="round"/>
<line x1="346.72" y1="285.96" x2="448.60" y2="285.96" stroke="#1a1a1a" stroke-width="1.0"/>
<path d="M398.04 284.01H448.20V283.71L449.40 285.66V286.26L448.20 288.21V287.91H398.04Z" fill="#00ff00" stroke="#00ff00" stroke-width="0.4" stroke-linejoin="round"/>
<path d="M376.99 284.01H383.15V283.71L384.35 285.66V286.26L383.15 288.21V287.91H376.99Z" fill="#ffc000" stroke="#ffc000" stroke-width="0.4" stroke-linejoin="round"/>
<path d="M345.92 284.01H371.71V283.71L372.91 285.66V286.26L371.71 288.21V287.91H345.92Z" fill="#ff0000" stroke="#ff0000" stroke-width="0.4" stroke-linejoin="round"/>
<path d="M384.14 289.16H396.85V288.86L398.05 290.81V291.41L396.85 293.36V293.06H384.14Z" fill="#058205" stroke="#058205" stroke-width="0.4" stroke-linejoin="round"/>
<path d="M372.49 289.16H376.41V288.86L377.61 290.81V291.41L376.41 293.36V293.06H372.49Z" fill="#c8961e" stroke="#c8961e" stroke-width="0.4" stroke-linejoin="round"/>
<line x1="346.72" y1="296.50" x2="467.20" y2="296.50" stroke="#1a1a1a" stroke-width="1.0"/>
<path d="M417.86 294.55H466.80V294.25L468.00 296.20V296.80L466.80 298.75V298.45H417.86Z" fill="#00ff00" stroke="#00ff00" stroke-width="0.4" stroke-linejoin="round"/>
<path d="M393.95 294.55H407.68V294.25L408.88 296.20V296.80L407.68 298.75V298.45H393.95Z" fill="#ffc000" stroke="#ffc000" stroke-width="0.4" stroke-linejoin="round"/>
<path d="M378.01 294.55H381.93V294.25L383.13 296.20V296.80L381.93 298.75V298.45H378.01Z" fill="#bebebe" stroke="#bebebe" stroke-width="0.4" stroke-linejoin="round"/>
<path d="M345.92 294.55H372.32V294.25L373.52 296.20V296.80L372.32 298.75V298.45H345.92Z" fill="#ff0000" stroke="#ff0000" stroke-width="0.4" stroke-linejoin="round"/>
<path d="M404.17 299.70H416.67V299.40L417.87 301.35V301.95L416.67 303.90V303.60H404.17Z" fill="#058205" stroke="#058205" stroke-width="0.4" stroke-linejoin="round"/>
<path d="M384.14 299.70H391.33V299.40L392.53 301.35V301.95L391.33 303.90V303.60H384.14Z" fill="#0000ff" stroke="#0000ff" stroke-width="0.4" stroke-linejoin="round"/>
<line x1="346.72" y1="307.04" x2="452.00" y2="307.04" stroke="#1a1a1a" stroke-width="1.0"/>
<path d="M400.90 305.09H451.60V304.79L452.80 306.74V307.34L451.60 309.29V308.99H400.90Z" fill="#00ff00" stroke="#00ff00" stroke-width="0.4" stroke-linejoin="round"/>
<path d="M377.73 305.09H386.01V304.79L387.21 306.74V307.34L386.01 309.29V308.99H377.73Z" fill="#ffc000" stroke="#ffc000" stroke-width="0.4" stroke-linejoin="round"/>
<path d="M372.01 305.09H377.43V304.79L378.63 306.74V307.34L377.43 309.29V308.99H372.01Z" fill="#c8961e" stroke="#c8961e" stroke-width="0.4" stroke-linejoin="round"/>
<path d="M345.92 305.09H371.71V304.79L372.91 306.74V307.34L371.71 309.29V308.99H345.92Z" fill="#ff0000" stroke="#ff0000" stroke-width="0.4" stroke-linejoin="round"/>
<path d="M386.80 310.24H399.50V309.94L400.70 311.89V312.49L399.50 314.44V314.14H386.80Z" fill="#058205" stroke="#058205" stroke-width="0.4" stroke-linejoin="round"/>
<line x1="346.72" y1="317.58" x2="456.30" y2="317.58" stroke="#1a1a1a" stroke-width="1.0"/>
<path d="M407.23 315.63H455.90V315.33L457.10 317.28V317.88L455.90 319.83V319.53H407.23Z" fill="#00ff00" stroke="#00ff00" stroke-width="0.4" stroke-linejoin="round"/>
<path d="M385.78 315.63H392.15V315.33L393.35 317.28V317.88L392.15 319.83V319.53H385.78Z" fill="#ffc000" stroke="#ffc000" stroke-width="0.4" stroke-linejoin="round"/>
<path d="M345.92 315.63H372.93V315.33L374.13 317.28V317.88L372.93 319.83V319.53H345.92Z" fill="#ff0000" stroke="#ff0000" stroke-width="0.4" stroke-linejoin="round"/>
<path d="M392.93 320.78H405.63V320.48L406.83 322.43V323.03L405.63 324.98V324.68H392.93Z" fill="#058205" stroke="#058205" stroke-width="0.4" stroke-linejoin="round"/>
<path d="M379.77 320.78H385.20V320.48L386.40 322.43V323.03L385.20 324.98V324.68H379.77Z" fill="#c8961e" stroke="#c8961e" stroke-width="0.4" stroke-linejoin="round"/>
<path d="M373.92 320.78H379.47V320.48L380.67 322.43V323.03L379.47 324.98V324.68H373.92Z" fill="#0000ff" stroke="#0000ff" stroke-width="0.4" stroke-linejoin="round"/>
<line x1="346.72" y1="328.12" x2="499.00" y2="328.12" stroke="#1a1a1a" stroke-width="1.0"/>
<path d="M417.45 326.17H498.60V325.87L499.80 327.82V328.42L498.60 330.37V330.07H417.45Z" fill="#e030ff" stroke="#e030ff" stroke-width="0.4" stroke-linejoin="round"/>
<path d="M402.13 326.17H411.77V325.87L412.97 327.82V328.42L411.77 330.37V330.07H402.13Z" fill="#bebebe" stroke="#bebebe" stroke-width="0.4" stroke-linejoin="round"/>
<path d="M380.46 326.17H387.04V325.87L388.24 327.82V328.42L387.04 330.37V330.07H380.46Z" fill="#ffc000" stroke="#ffc000" stroke-width="0.4" stroke-linejoin="round"/>
<path d="M345.92 326.17H371.71V325.87L372.91 327.82V328.42L371.71 330.37V330.07H345.92Z" fill="#ff0000" stroke="#ff0000" stroke-width="0.4" stroke-linejoin="round"/>
<path d="M388.23 331.32H400.53V331.02L401.73 332.97V333.57L400.53 335.52V335.22H388.23Z" fill="#058205" stroke="#058205" stroke-width="0.4" stroke-linejoin="round"/>
<path d="M372.49 331.32H380.50V331.02L381.70 332.97V333.57L380.50 335.52V335.22H372.49Z" fill="#ffff00" stroke="#ffff00" stroke-width="0.4" stroke-linejoin="round"/>
<line x1="346.72" y1="338.66" x2="449.10" y2="338.66" stroke="#1a1a1a" stroke-width="1.0"/>
<path d="M399.06 336.71H448.70V336.41L449.90 338.36V338.96L448.70 340.91V340.61H399.06Z" fill="#00ff00" stroke="#00ff00" stroke-width="0.4" stroke-linejoin="round"/>
<path d="M379.03 336.71H386.01V336.41L387.21 338.36V338.96L386.01 340.91V340.61H379.03Z" fill="#ffc000" stroke="#ffc000" stroke-width="0.4" stroke-linejoin="round"/>
<path d="M345.92 336.71H371.71V336.41L372.91 338.36V338.96L371.71 340.91V340.61H345.92Z" fill="#ff0000" stroke="#ff0000" stroke-width="0.4" stroke-linejoin="round"/>
<path d="M385.16 341.86H397.46V341.56L398.66 343.51V344.11L397.46 346.06V345.76H385.16Z" fill="#058205" stroke="#058205" stroke-width="0.4" stroke-linejoin="round"/>
<path d="M372.29 341.86H378.45V341.56L379.65 343.51V344.11L378.45 346.06V345.76H372.29Z" fill="#0000ff" stroke="#0000ff" stroke-width="0.4" stroke-linejoin="round"/>
<line x1="346.72" y1="349.20" x2="445.60" y2="349.20" stroke="#1a1a1a" stroke-width="1.0"/>
<path d="M422.80 347.25H445.20V346.95L446.40 348.90V349.50L445.20 351.45V351.15H422.80Z" fill="#c4f7c4" stroke="#c4f7c4" stroke-width="0.4" stroke-linejoin="round"/>
<path d="M394.97 347.25H422.50V346.95L423.70 348.90V349.50L422.50 351.45V351.15H394.97Z" fill="#00ff00" stroke="#00ff00" stroke-width="0.4" stroke-linejoin="round"/>
<path d="M372.01 347.25H376.82V346.95L378.02 348.90V349.50L376.82 351.45V351.15H372.01Z" fill="#ffc000" stroke="#ffc000" stroke-width="0.4" stroke-linejoin="round"/>
<path d="M345.92 347.25H371.71V346.95L372.91 348.90V349.50L371.71 351.45V351.15H345.92Z" fill="#ff0000" stroke="#ff0000" stroke-width="0.4" stroke-linejoin="round"/>
<path d="M379.44 352.40H393.78V352.10L394.98 354.05V354.65L393.78 356.60V356.30H379.44Z" fill="#058205" stroke="#058205" stroke-width="0.4" stroke-linejoin="round"/>
<line x1="346.72" y1="359.74" x2="443.90" y2="359.74" stroke="#1a1a1a" stroke-width="1.0"/>
<path d="M394.36 357.79H443.50V357.49L444.70 359.44V360.04L443.50 361.99V361.69H394.36Z" fill="#00ff00" stroke="#00ff00" stroke-width="0.4" stroke-linejoin="round"/>
<path d="M372.01 357.79H383.15V357.49L384.35 359.44V360.04L383.15 361.99V361.69H372.01Z" fill="#ffc000" stroke="#ffc000" stroke-width="0.4" stroke-linejoin="round"/>
<path d="M345.92 357.79H371.71V357.49L372.91 359.44V360.04L371.71 361.99V361.69H345.92Z" fill="#ff0000" stroke="#ff0000" stroke-width="0.4" stroke-linejoin="round"/>
<path d="M380.05 362.94H393.37V362.64L394.57 364.59V365.19L393.37 367.14V366.84H380.05Z" fill="#058205" stroke="#058205" stroke-width="0.4" stroke-linejoin="round"/>
<line x1="346.72" y1="370.71" x2="469.50" y2="370.71" stroke="#1a1a1a" stroke-width="1.0"/>
<path d="M409.82 368.76H469.10V368.46L470.30 370.41V371.01L469.10 372.96V372.66H409.82Z" fill="#3f92e8" stroke="#3f92e8" stroke-width="0.4" stroke-linejoin="round"/>
<path d="M379.37 368.76H409.52V368.46L410.72 370.41V371.01L409.52 372.96V372.66H379.37Z" fill="#bebebe" stroke="#bebebe" stroke-width="0.4" stroke-linejoin="round"/>
<path d="M373.64 368.76H379.27V368.46L380.47 370.41V371.01L379.27 372.96V372.66H373.64Z" fill="#a8a8a8" stroke="#a8a8a8" stroke-width="0.4" stroke-linejoin="round"/>
<path d="M345.92 368.76H372.93V368.46L374.13 370.41V371.01L372.93 372.96V372.66H345.92Z" fill="#ff0000" stroke="#ff0000" stroke-width="0.4" stroke-linejoin="round"/>
<line x1="346.72" y1="381.25" x2="489.90" y2="381.25" stroke="#1a1a1a" stroke-width="1.0"/>
<path d="M429.44 379.30H489.50V379.00L490.70 380.95V381.55L489.50 383.50V383.20H429.44Z" fill="#3f92e8" stroke="#3f92e8" stroke-width="0.4" stroke-linejoin="round"/>
<path d="M407.98 379.30H429.14V379.00L430.34 380.95V381.55L429.14 383.50V383.20H407.98Z" fill="#bebebe" stroke="#bebebe" stroke-width="0.4" stroke-linejoin="round"/>
<path d="M394.08 379.30H407.68V379.00L408.88 380.95V381.55L407.68 383.50V383.20H394.08Z" fill="#bebebe" stroke="#bebebe" stroke-width="0.4" stroke-linejoin="round"/>
<path d="M379.37 379.30H393.78V379.00L394.98 380.95V381.55L393.78 383.50V383.20H379.37Z" fill="#bebebe" stroke="#bebebe" stroke-width="0.4" stroke-linejoin="round"/>
<path d="M373.92 379.30H379.07V379.00L380.27 380.95V381.55L379.07 383.50V383.20H373.92Z" fill="#bebebe" stroke="#bebebe" stroke-width="0.4" stroke-linejoin="round"/>
<path d="M345.92 379.30H371.30V379.00L372.50 380.95V381.55L371.30 383.50V383.20H345.92Z" fill="#ff0000" stroke="#ff0000" stroke-width="0.4" stroke-linejoin="round"/>
<line x1="346.72" y1="391.79" x2="420.90" y2="391.79" stroke="#1a1a1a" stroke-width="1.0"/>
<path d="M401.23 389.84H420.50V389.54L421.70 391.49V392.09L420.50 394.04V393.74H401.23Z" fill="#bebebe" stroke="#bebebe" stroke-width="0.4" stroke-linejoin="round"/>
<path d="M389.38 389.84H400.93V389.54L402.13 391.49V392.09L400.93 394.04V393.74H389.38Z" fill="#bebebe" stroke="#bebebe" stroke-width="0.4" stroke-linejoin="round"/>
<path d="M382.10 389.84H389.08V389.54L390.28 391.49V392.09L389.08 394.04V393.74H382.10Z" fill="#bebebe" stroke="#bebebe" stroke-width="0.4" stroke-linejoin="round"/>
<path d="M345.92 389.84H372.32V389.54L373.52 391.49V392.09L372.32 394.04V393.74H345.92Z" fill="#ff0000" stroke="#ff0000" stroke-width="0.4" stroke-linejoin="round"/>
<line x1="346.72" y1="402.33" x2="455.80" y2="402.33" stroke="#1a1a1a" stroke-width="1.0"/>
<path d="M393.67 400.38H455.40V400.08L456.60 402.03V402.63L455.40 404.58V404.28H393.67Z" fill="#3f92e8" stroke="#3f92e8" stroke-width="0.4" stroke-linejoin="round"/>
<path d="M378.34 400.38H393.37V400.08L394.57 402.03V402.63L393.37 404.58V404.28H378.34Z" fill="#bebebe" stroke="#bebebe" stroke-width="0.4" stroke-linejoin="round"/>
<path d="M371.19 400.38H378.04V400.08L379.24 402.03V402.63L378.04 404.58V404.28H371.19Z" fill="#bebebe" stroke="#bebebe" stroke-width="0.4" stroke-linejoin="round"/>
<path d="M345.92 400.38H370.89V400.08L372.09 402.03V402.63L370.89 404.58V404.28H345.92Z" fill="#ff0000" stroke="#ff0000" stroke-width="0.4" stroke-linejoin="round"/>
<line x1="346.72" y1="412.87" x2="464.40" y2="412.87" stroke="#1a1a1a" stroke-width="1.0"/>
<path d="M406.34 410.92H464.00V410.62L465.20 412.57V413.17L464.00 415.12V414.82H406.34Z" fill="#3f92e8" stroke="#3f92e8" stroke-width="0.4" stroke-linejoin="round"/>
<path d="M397.56 410.92H406.04V410.62L407.24 412.57V413.17L406.04 415.12V414.82H397.56Z" fill="#bebebe" stroke="#bebebe" stroke-width="0.4" stroke-linejoin="round"/>
<path d="M384.88 410.92H397.26V410.62L398.46 412.57V413.17L397.26 415.12V414.82H384.88Z" fill="#bebebe" stroke="#bebebe" stroke-width="0.4" stroke-linejoin="round"/>
<path d="M378.42 410.92H384.58V410.62L385.78 412.57V413.17L384.58 415.12V414.82H378.42Z" fill="#bebebe" stroke="#bebebe" stroke-width="0.4" stroke-linejoin="round"/>
<path d="M345.92 410.92H371.30V410.62L372.50 412.57V413.17L371.30 415.12V414.82H345.92Z" fill="#ff0000" stroke="#ff0000" stroke-width="0.4" stroke-linejoin="round"/>
<g font-size="8.6" fill="#111">
<text x="512.40" y="47.05" textLength="82.34" lengthAdjust="spacing" stroke="#111" stroke-width="0.12"><tspan font-style="italic">nblA</tspan> and <tspan font-style="italic">psbA</tspan> genes</text>
<circle cx="519.3" cy="60.75" r="3.5" fill="#0000ff"/>
<text x="526.80" y="63.45" textLength="109.24" lengthAdjust="spacing" stroke="#111" stroke-width="0.12"><tspan font-style="italic">nblA</tspan> after exonuclease gene</text>
<circle cx="519.3" cy="74.45" r="3.5" fill="#0bb8c4"/>
<text x="526.80" y="77.15" textLength="135.54" lengthAdjust="spacing" stroke="#111" stroke-width="0.12"><tspan font-style="italic">nblA</tspan> after HNH endonuclease gene</text>
<rect x="515.5" y="84.7" width="7.4" height="7.4" fill="#ff00ff"/>
<text x="527.40" y="90.90" textLength="45.91" lengthAdjust="spacing" stroke="#111" stroke-width="0.12"><tspan font-style="italic">psbA</tspan> genes</text>
<text x="514.70" y="124.60" textLength="27.53" lengthAdjust="spacing" stroke="#111" stroke-width="0.12">Habitat</text>
<rect x="514.7" y="134.5" width="9.2" height="9.2" fill="#00ffff"/>
<text x="527.90" y="142.40" textLength="42.13" lengthAdjust="spacing" stroke="#111" stroke-width="0.12">Freshwater</text>
<rect x="598.9" y="134.5" width="9.2" height="9.2" fill="#0000ff"/>
<text x="612.10" y="142.40" textLength="25.61" lengthAdjust="spacing" stroke="#111" stroke-width="0.12">Marine</text>
<text x="514.20" y="175.40" textLength="87.53" lengthAdjust="spacing" stroke="#111" stroke-width="0.12">Host lineage of phages</text>
<circle cx="517.5" cy="189.70" r="3.1" fill="#b39ddb"/>
<text x="524.70" y="192.20" textLength="117.42" lengthAdjust="spacing" stroke="#111" stroke-width="0.12"><tspan font-style="italic">Synechococcus</tspan> subcluster 5.1</text>
<circle cx="517.5" cy="202.30" r="3.1" fill="#6cc070"/>
<text x="524.70" y="204.80" textLength="117.43" lengthAdjust="spacing" stroke="#111" stroke-width="0.12"><tspan font-style="italic">Synechococcus</tspan> subcluster 5.2</text>
<circle cx="517.5" cy="214.90" r="3.1" fill="#2f5aa8"/>
<text x="525.45" y="217.40" textLength="87.92" lengthAdjust="spacing" stroke="#111" stroke-width="0.12"><tspan font-style="italic">Prochlorococcus</tspan> clade</text>
<circle cx="517.5" cy="227.50" r="3.1" fill="#000"/>
<text x="525.80" y="230.00" textLength="85.09" lengthAdjust="spacing" stroke="#111" stroke-width="0.12">Host lineage unknown</text>
<text x="512.40" y="260.80" textLength="24.03" lengthAdjust="spacing" stroke="#111" stroke-width="0.12">Genes</text>
<path d="M513.70 272.60H545.50V271.65L548.55 275.25L545.50 278.85V277.90H513.70Z" fill="#ff0000" stroke="#ff0000" stroke-width="1.2" stroke-linejoin="round"/>
<text x="553.70" y="277.85" textLength="70.37" lengthAdjust="spacing" stroke="#111" stroke-width="0.12">Exonuclease (gp6)</text>
<path d="M513.70 286.67H545.50V285.72L548.55 289.32L545.50 292.92V291.97H513.70Z" fill="#0000ff" stroke="#0000ff" stroke-width="1.2" stroke-linejoin="round"/>
<text x="553.60" y="291.92" textLength="17.08" lengthAdjust="spacing" stroke="#111" stroke-width="0.12"><tspan font-style="italic">nblA</tspan></text>
<path d="M513.70 300.74H545.50V299.79L548.55 303.39L545.50 306.99V306.04H513.70Z" fill="#ffff00" stroke="#e2e21c" stroke-width="1.2" stroke-linejoin="round"/>
<text x="553.70" y="305.99" textLength="119.48" lengthAdjust="spacing" stroke="#111" stroke-width="0.12">Protein of unknown function (1)</text>
<path d="M513.70 314.81H545.50V313.86L548.55 317.46L545.50 321.06V320.11H513.70Z" fill="#c8961e" stroke="#c8961e" stroke-width="1.2" stroke-linejoin="round"/>
<text x="553.70" y="320.06" textLength="119.48" lengthAdjust="spacing" stroke="#111" stroke-width="0.12">Protein of unknown function (2)</text>
<path d="M513.70 328.88H545.50V327.93L548.55 331.53L545.50 335.13V334.18H513.70Z" fill="#ffc000" stroke="#ffc000" stroke-width="1.2" stroke-linejoin="round"/>
<text x="553.70" y="334.13" textLength="96.80" lengthAdjust="spacing" stroke="#111" stroke-width="0.12">Nucleotide kinase (gp1.7)</text>
<path d="M513.70 342.95H545.50V342.00L548.55 345.60L545.50 349.20V348.25H513.70Z" fill="#058205" stroke="#058205" stroke-width="1.2" stroke-linejoin="round"/>
<text x="553.70" y="348.20" textLength="131.86" lengthAdjust="spacing" stroke="#111" stroke-width="0.12">Nucleotide pyrophosphohydrolase</text>
<path d="M513.70 357.02H545.50V356.07L548.55 359.67L545.50 363.27V362.32H513.70Z" fill="#00ff00" stroke="#00ff00" stroke-width="1.2" stroke-linejoin="round"/>
<text x="553.70" y="362.27" textLength="128.47" lengthAdjust="spacing" stroke="#111" stroke-width="0.12">Class-Ø ribonucleotide reductase</text>
<path d="M513.70 371.09H545.50V370.14L548.55 373.74L545.50 377.34V376.39H513.70Z" fill="#e030ff" stroke="#e030ff" stroke-width="1.2" stroke-linejoin="round"/>
<text x="553.70" y="376.34" textLength="126.26" lengthAdjust="spacing" stroke="#111" stroke-width="0.12">Class-II ribonucleotide reductase</text>
<path d="M513.70 385.16H545.50V384.21L548.55 387.81L545.50 391.41V390.46H513.70Z" fill="#3f92e8" stroke="#3f92e8" stroke-width="1.2" stroke-linejoin="round"/>
<text x="553.70" y="390.41" textLength="51.83" lengthAdjust="spacing" stroke="#111" stroke-width="0.12">Portal protein</text>
<path d="M513.70 399.23H545.50V398.28L548.55 401.88L545.50 405.48V404.53H513.70Z" fill="#bebebe" stroke="#bebebe" stroke-width="1.2" stroke-linejoin="round"/>
<text x="553.70" y="404.48" textLength="46.90" lengthAdjust="spacing" stroke="#111" stroke-width="0.12">Other genes</text>
</g>
</svg>
</body></html>
